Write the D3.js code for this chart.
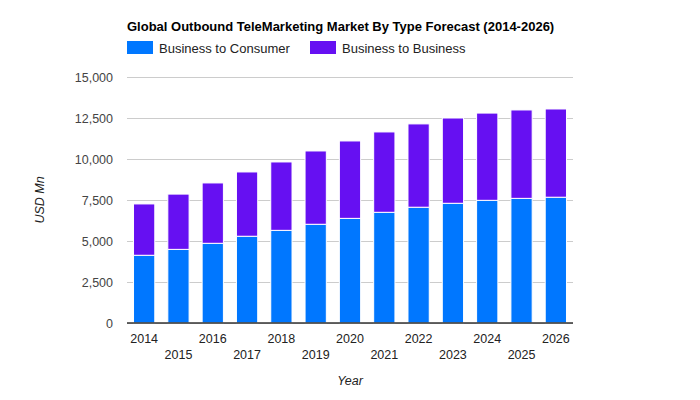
<!DOCTYPE html>
<html>
<head>
<meta charset="utf-8">
<script src="https://cdn.jsdelivr.net/npm/d3@7"></script>
<style>
  body { margin: 0; background: #fff; }
  text { font-family: Arial, "Liberation Sans", sans-serif; }
</style>
</head>
<body>
<svg id="chart" width="700" height="400"></svg>
<script>
const years = ["2014", "2015", "2016", "2017", "2018", "2019", "2020", "2021", "2022", "2023", "2024", "2025", "2026"];
const b2c = [4130, 4490, 4860, 5290, 5650, 6020, 6380, 6750, 7060, 7300, 7480, 7600, 7670];
const b2b = [3130, 3370, 3680, 3920, 4170, 4470, 4720, 4900, 5080, 5200, 5320, 5390, 5380];
const yTicks = [0, 2500, 5000, 7500, 10000, 12500, 15000];
const seriesNames = ["Business to Consumer", "Business to Business"];
const seriesColors = ["#0077FF", "#6610F2"];

const fmt = d3.format(",");
const svg = d3.select("#chart");
const plotLeft = 127, plotRight = 573, plotTop = 77, plotBottom = 323;

const x = d3.scaleBand().domain(years).range([plotLeft, plotRight]).paddingInner(0.38).paddingOuter(0.19);
const y = d3.scaleLinear().domain([0, 15000]).range([plotBottom, plotTop]);

// title
svg.append("text").attr("x", plotLeft).attr("y", 31)
  .attr("font-size", 13).attr("font-weight", "bold").attr("fill", "#000")
  .text("Global Outbound TeleMarketing Market By Type Forecast (2014-2026)");

// legend
const legendX = [127, 310];
seriesNames.forEach((name, i) => {
  svg.append("rect").attr("x", legendX[i]).attr("y", 41).attr("width", 26).attr("height", 13)
    .attr("fill", seriesColors[i]);
  svg.append("text").attr("x", legendX[i] + 32).attr("y", 52.5)
    .attr("font-size", 13).attr("fill", "#222").text(name);
});

// gridlines + y labels
const yAxis = d3.axisLeft(y).tickValues(yTicks).tickSize(-(plotRight - plotLeft)).tickFormat(fmt).tickPadding(14);
const gy = svg.append("g").attr("transform", `translate(${plotLeft},0)`).call(yAxis);
gy.select(".domain").remove();
gy.selectAll(".tick line").attr("stroke", "#ccc");
gy.selectAll(".tick text").attr("font-size", 12.5).attr("fill", "#444").attr("font-family", "Arial, 'Liberation Sans', sans-serif");

// stacked bars
const rows = years.map((yr, i) => ({ year: yr, b2c: b2c[i], b2b: b2b[i] }));
const stacked = d3.stack().keys(["b2c", "b2b"])(rows);
svg.append("g").selectAll("g").data(stacked).join("g")
  .attr("fill", (d, i) => seriesColors[i])
  .selectAll("rect").data(d => d).join("rect")
  .attr("x", d => x(d.data.year))
  .attr("width", x.bandwidth())
  .attr("y", d => y(d[1]))
  .attr("height", d => y(d[0]) - y(d[1]))
  .attr("stroke", "#fff").attr("stroke-width", 1);

// baseline
svg.append("line").attr("x1", plotLeft).attr("x2", plotRight).attr("y1", y(0)).attr("y2", y(0))
  .attr("stroke", "#333").attr("stroke-width", 1.5);

// x labels (staggered)
svg.append("g").selectAll("text").data(years).join("text")
  .attr("x", d => x(d) + x.bandwidth() / 2)
  .attr("y", (d, i) => i % 2 === 0 ? 343 : 359)
  .attr("text-anchor", "middle").attr("font-size", 12.5).attr("fill", "#222")
  .text(d => d);

// axis titles
svg.append("text").attr("x", (plotLeft + plotRight) / 2).attr("y", 385)
  .attr("text-anchor", "middle").attr("font-size", 12.5).attr("font-style", "italic").attr("fill", "#222")
  .text("Year");
svg.append("text").attr("transform", `translate(44,${(plotTop + plotBottom) / 2}) rotate(-90)`)
  .attr("text-anchor", "middle").attr("font-size", 12.5).attr("font-style", "italic").attr("fill", "#222")
  .text("USD Mn");
</script>
</body>
</html>
